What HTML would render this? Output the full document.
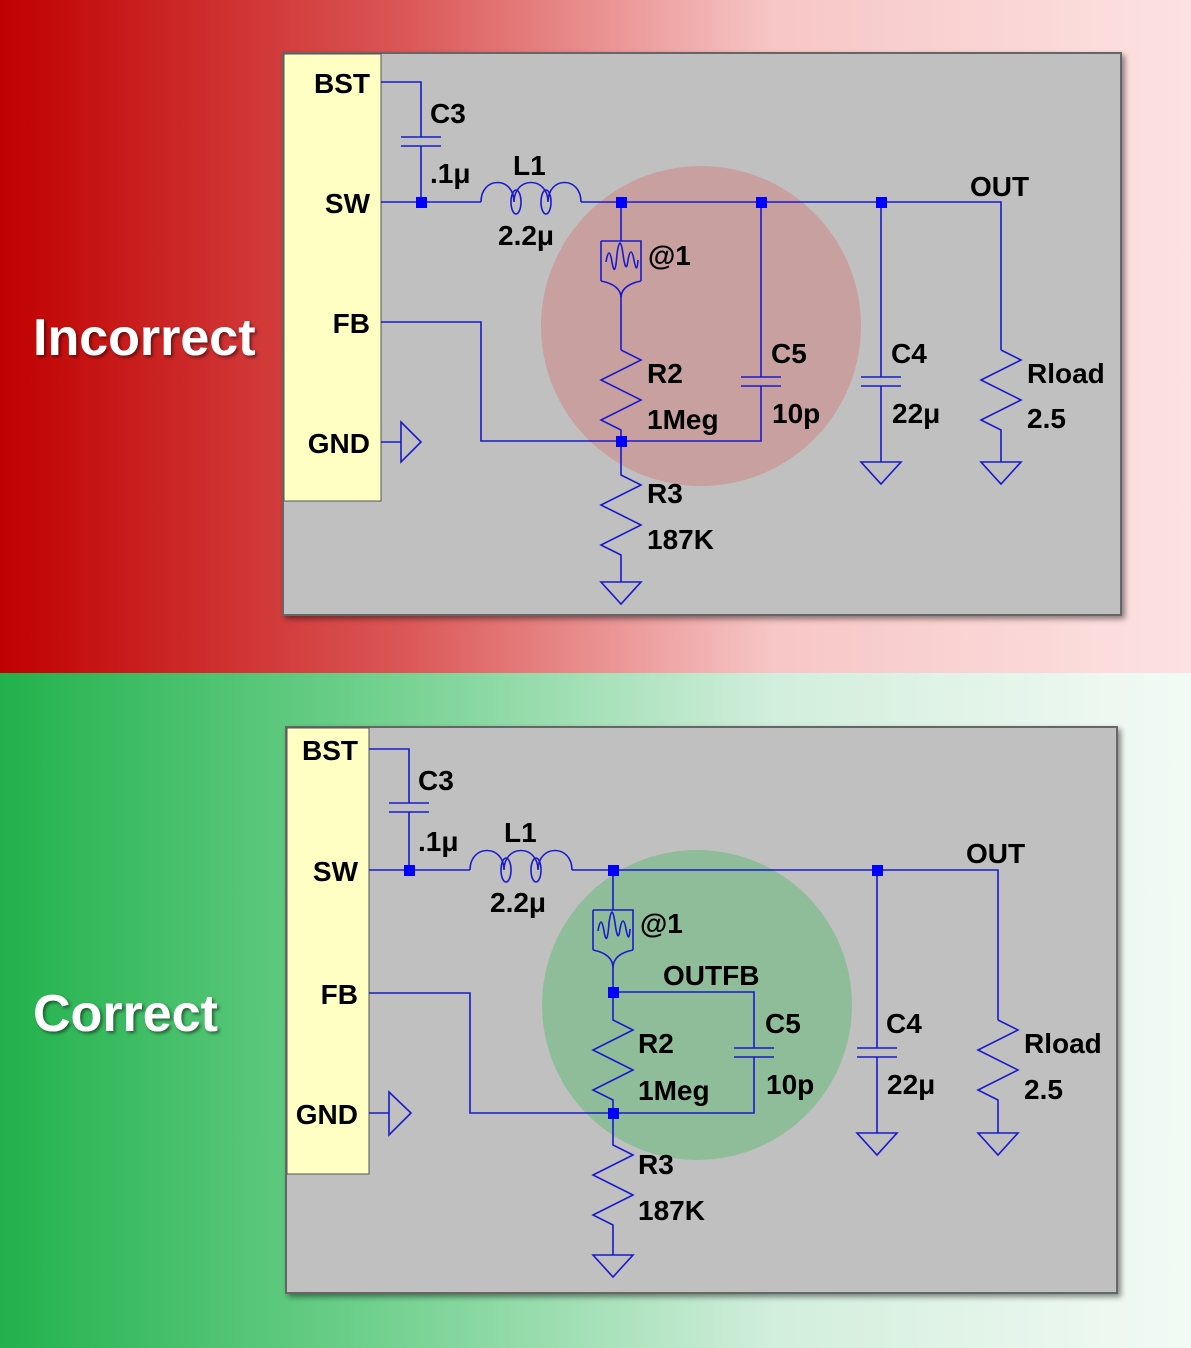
<!DOCTYPE html>
<html><head><meta charset="utf-8"><style>
html,body{margin:0;padding:0;width:1191px;height:1348px;overflow:hidden}
svg{display:block}
text{font-family:"Liberation Sans","DejaVu Sans",sans-serif;font-weight:bold;font-size:28px;fill:#000}
.w{stroke:#1a1acc;stroke-width:1.6;fill:none}
.big{font-size:52px;fill:#fff;font-weight:bold}
</style></head><body>
<svg width="1191" height="1348" viewBox="0 0 1191 1348" xmlns="http://www.w3.org/2000/svg">
<defs>
<linearGradient id="gr" x1="0" x2="1" y1="0" y2="0"><stop offset="0" stop-color="#c00000"/><stop offset="0.35" stop-color="#dc5a5a"/><stop offset="0.65" stop-color="#f7c6c6"/><stop offset="1" stop-color="#fde2e2"/></linearGradient>
<linearGradient id="gg" x1="0" x2="1" y1="0" y2="0"><stop offset="0" stop-color="#22b14c"/><stop offset="0.3" stop-color="#6ccf8a"/><stop offset="0.65" stop-color="#d2eedc"/><stop offset="1" stop-color="#f3faf5"/></linearGradient>
<filter id="sh" x="-5%" y="-5%" width="110%" height="110%"><feDropShadow dx="3" dy="3" stdDeviation="3" flood-color="#000" flood-opacity="0.45"/></filter>
<filter id="ts"><feDropShadow dx="2" dy="2" stdDeviation="1.5" flood-color="#000" flood-opacity="0.5"/></filter>
</defs>
<rect x="0" y="0" width="1191" height="673" fill="url(#gr)"/>
<rect x="0" y="673" width="1191" height="675" fill="url(#gg)"/>
<text x="33" y="355" class="big" filter="url(#ts)">Incorrect</text>
<text x="33" y="1031" class="big" filter="url(#ts)">Correct</text>

<!-- TOP PANEL -->
<rect x="283" y="53" width="838" height="562" fill="#c0c0c0" stroke="#666" stroke-width="2" filter="url(#sh)"/>
<rect x="284" y="54" width="97" height="447" fill="#ffffc4" stroke="#555" stroke-width="1"/>
<circle cx="701" cy="326" r="160" fill="#c9a0a0"/>
<g class="w">
<path d="M381 82H421V137M401 137H441M401 146H441M421 146V202"/>
<path d="M381 202H481M581 202H1001V350"/>
<path d="M481 202C481 176 514 176 514 202M514 202C514 176 548 176 548 202M548 202C548 176 581 176 581 202"/>
<ellipse cx="516" cy="202" rx="5" ry="12"/><ellipse cx="546" cy="202" rx="5" ry="12"/>
<path d="M621 202V241M601 241H641V281M601 241V281M601 281Q621 285 621 298Q621 285 641 281M621 298V350"/>
<path d="M606 262q3-18 6 0t5 -8q3-22 6 0t5 6q3-16 6 0t4 0"/>
<path d="M621 350L641 360L601 380L641 400L601 420L621 430V475L641 485L601 505L641 525L601 545L621 555V582M601 582H641L621 604Z"/>
<path d="M381 322H481V441H761V386M741 386H781M741 377H781M761 377V202"/>
<path d="M881 202V377M861 377H901M861 386H901M881 386V462M861 462H901L881 484Z"/>
<path d="M1001 350L1021 360L981 380L1021 400L981 420L1001 430V462M981 462H1021L1001 484Z"/>
<path d="M381 442H401M401 422L421 442L401 462Z"/>
</g>
<g fill="#0000ff"><rect x="416" y="197" width="11" height="11"/><rect x="616" y="197" width="11" height="11"/><rect x="756" y="197" width="11" height="11"/><rect x="876" y="197" width="11" height="11"/><rect x="616" y="436" width="11" height="11"/></g>
<g text-anchor="end"><text x="370" y="93">BST</text><text x="370" y="213">SW</text><text x="370" y="333">FB</text><text x="370" y="453">GND</text></g>
<text x="430" y="123">C3</text><text x="430" y="183">.1μ</text><text x="513" y="175">L1</text><text x="498" y="245">2.2μ</text>
<text x="648" y="265" fill="#300">@1</text><text x="647" y="383">R2</text><text x="647" y="429">1Meg</text>
<text x="771" y="363">C5</text><text x="772" y="423">10p</text><text x="891" y="363">C4</text><text x="892" y="423">22μ</text>
<text x="1027" y="383">Rload</text><text x="1027" y="428">2.5</text><text x="647" y="503">R3</text><text x="647" y="549">187K</text>
<text x="970" y="196">OUT</text>

<!-- BOTTOM PANEL -->
<rect x="286" y="727" width="831" height="566" fill="#c0c0c0" stroke="#666" stroke-width="2" filter="url(#sh)"/>
<rect x="287" y="728" width="82" height="446" fill="#ffffc4" stroke="#555" stroke-width="1"/>
<circle cx="697" cy="1005" r="155" fill="#8fbd9a"/>
<g class="w">
<path d="M369 749H409V803M389 803H429M389 812H429M409 812V870"/>
<path d="M369 870H470M572 870H998V1020"/>
<path d="M470 870C470 844 504 844 504 870M504 870C504 844 538 844 538 870M538 870C538 844 572 844 572 870"/>
<ellipse cx="506" cy="870" rx="5" ry="12"/><ellipse cx="536" cy="870" rx="5" ry="12"/>
<path d="M613 870V910M593 910H633V950M593 910V950M593 950Q613 954 613 968Q613 954 633 950M613 968V992"/>
<path d="M598 931q3-18 6 0t5 -8q3-22 6 0t5 6q3-16 6 0t4 0"/>
<path d="M613 992H754V1048M734 1048H774M734 1057H774M754 1057V1113H613"/>
<path d="M613 992V1020L633 1030L593 1050L633 1070L593 1090L613 1100V1145L633 1155L593 1175L633 1195L593 1215L613 1225V1255M593 1255H633L613 1277Z"/>
<path d="M369 993H470V1113H613"/>
<path d="M877 870V1048M857 1048H897M857 1057H897M877 1057V1133M857 1133H897L877 1155Z"/>
<path d="M998 1020L1018 1030L978 1050L1018 1070L978 1090L998 1100V1133M978 1133H1018L998 1155Z"/>
<path d="M369 1113H389M389 1092L411 1113L389 1135Z"/>
</g>
<g fill="#0000ff"><rect x="404" y="865" width="11" height="11"/><rect x="608" y="865" width="11" height="11"/><rect x="872" y="865" width="11" height="11"/><rect x="608" y="987" width="11" height="11"/><rect x="608" y="1108" width="11" height="11"/></g>
<g text-anchor="end"><text x="358" y="760">BST</text><text x="358" y="881">SW</text><text x="358" y="1004">FB</text><text x="358" y="1124">GND</text></g>
<text x="418" y="790">C3</text><text x="418" y="851">.1μ</text><text x="504" y="842">L1</text><text x="490" y="912">2.2μ</text>
<text x="640" y="933" fill="#0a2a10">@1</text><text x="663" y="985" fill="#0a2a10">OUTFB</text><text x="638" y="1053" fill="#0a2a10">R2</text><text x="638" y="1100" fill="#0a2a10">1Meg</text>
<text x="765" y="1033" fill="#0a2a10">C5</text><text x="766" y="1094" fill="#0a2a10">10p</text><text x="886" y="1033">C4</text><text x="887" y="1094">22μ</text>
<text x="1024" y="1053">Rload</text><text x="1024" y="1099">2.5</text><text x="638" y="1174">R3</text><text x="638" y="1220">187K</text>
<text x="966" y="863">OUT</text>
</svg>
</body></html>
